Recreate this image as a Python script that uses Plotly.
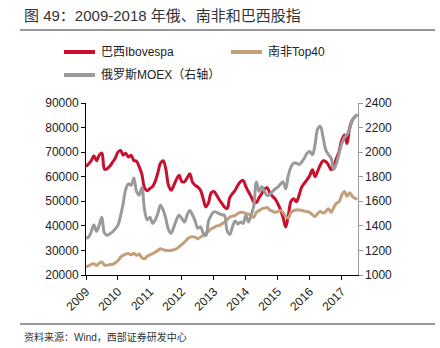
import pandas as pd
import plotly.graph_objects as go
from plotly.subplots import make_subplots

dates = pd.date_range("2009-01-01", periods=103, freq="MS")

ibovespa = [
    64200, 65300, 66500, 68500, 66500, 68800, 69600, 63000, 63300, 64300, 66000, 67500,
    70000, 70700, 68800, 69500, 68000, 68700, 66600, 66300, 64000, 61000, 55500, 54300,
    55200, 56000, 58000, 61500, 65500, 66500, 63300, 56500, 54500, 56500, 59000, 60600,
    58000, 58000, 59500, 61200, 57800, 56500, 55800, 54500, 51000, 47700, 49500, 53500,
    54000, 52500, 50800, 49200, 47700, 47000, 51500, 53100, 54500, 56500, 58000, 58500,
    56000, 53800, 52000, 49700, 49500, 51500, 53100, 55000, 55500, 53500, 52000, 51000,
    49000, 46500, 43600, 39500, 44300, 50000, 51000, 49800, 52500, 55800, 57400, 58800,
    60500, 62800, 60000, 62300, 64800, 66500, 66200, 64800, 62800, 64500, 67500, 70300,
    75000, 77000, 73500, 80000, 83000, 84500, 85200,
]

top40 = [
    23200, 23800, 24300, 24600, 23900, 24800, 25300, 24000, 24000, 24300, 24300, 25000,
    25800, 27300, 28000, 28500, 28700, 28200, 28900, 28000, 28500, 27000, 26600, 27600,
    28200, 28700, 29300, 30000, 30700, 30300, 30000, 30000, 30000, 30300, 30700, 31500,
    32500, 33400, 34500, 35400, 35600, 35400, 34700, 35500, 36100, 37000, 37800, 38800,
    39300, 40000, 40100, 40800, 41500, 42500, 43500, 44000, 44200, 45000, 45500, 45500,
    45000, 44800, 44200, 43500, 45500, 46200, 46900, 47200, 47500, 46500, 46000, 45500,
    45800, 46200, 45500, 43800, 43200, 45500, 46200, 46500, 46500, 46300, 46000, 45800,
    45500, 44500, 43800, 45000, 45800, 45200, 45800, 47000, 45500, 47500, 49300, 49800,
    52600, 54000, 52000, 53500, 52000, 51200, 51000,
]

moex = [
    1298, 1310, 1350, 1406, 1356, 1406, 1470, 1340, 1324, 1336, 1352, 1376,
    1406, 1486, 1580, 1700, 1742, 1730, 1790, 1680, 1650, 1710, 1530, 1450,
    1470, 1420, 1446, 1500, 1568, 1530, 1460, 1370, 1340, 1390, 1450, 1486,
    1460, 1432, 1490, 1526, 1490, 1440, 1380, 1392, 1340, 1320, 1440, 1486,
    1514, 1510, 1500, 1490, 1486, 1360, 1330, 1392, 1440, 1416, 1432, 1420,
    1486, 1432, 1486, 1560, 1756, 1680, 1720, 1680, 1648, 1656, 1680, 1700,
    1716, 1740, 1760, 1700, 1810, 1880, 1910, 1910, 1900, 1920, 1952, 1990,
    2006, 1980, 2060, 2190, 2210, 2120, 2020, 1980, 1952, 1860, 1910, 1990,
    2070, 2120, 2140, 2190, 2260, 2290, 2304,
]

year_ticks = [str(y) for y in range(2009, 2018)]
left_ticks = [20000, 30000, 40000, 50000, 60000, 70000, 80000, 90000]
right_ticks = [1000, 1200, 1400, 1600, 1800, 2000, 2200, 2400]

RED = "#C8102E"
TAN = "#C4A07A"
GRAY = "#9A9A9A"
FONT = "Liberation Sans, Noto Sans CJK SC, sans-serif"
TXT = "#222222"

fig = make_subplots(specs=[[{"secondary_y": True}]])
fig.add_trace(go.Scatter(x=dates, y=ibovespa, mode="lines", line=dict(color=RED, width=3, shape="spline"),
                         name="巴西Ibovespa", showlegend=False), secondary_y=False)
fig.add_trace(go.Scatter(x=dates, y=top40, mode="lines", line=dict(color=TAN, width=3, shape="spline"),
                         name="南非Top40", showlegend=False), secondary_y=False)
fig.add_trace(go.Scatter(x=dates, y=moex, mode="lines", line=dict(color=GRAY, width=3, shape="spline"),
                         name="俄罗斯MOEX（右轴）", showlegend=False), secondary_y=True)

L, R, T, B = 86, 65, 103, 73
W, H = 440, 348
pw, ph = W - L - R, H - T - B


def px(x):
    return (x - L) / pw


def py(y):
    return (H - B - y) / ph


fig.update_layout(
    width=W, height=H,
    margin=dict(l=L, r=R, t=T, b=B),
    paper_bgcolor="white", plot_bgcolor="white",
    font=dict(family=FONT, size=12, color=TXT),
)
fig.update_xaxes(
    range=[pd.Timestamp("2009-01-01"), pd.Timestamp("2017-07-01")],
    tickmode="array",
    tickvals=[pd.Timestamp(f"{y}-01-01") for y in year_ticks],
    ticktext=year_ticks,
    tickangle=-45,
    showgrid=False, zeroline=False,
    showline=True, linecolor="#000000", linewidth=1,
    ticks="outside", ticklen=4, tickcolor="#000000",
    tickfont=dict(size=12, color=TXT),
)
fig.update_yaxes(
    range=[20000, 90000], tickmode="array", tickvals=left_ticks,
    ticktext=[str(v) for v in left_ticks],
    showgrid=False, zeroline=False,
    showline=True, linecolor="#000000", linewidth=1,
    ticks="outside", ticklen=4, tickcolor="#000000",
    tickfont=dict(size=12, color=TXT), secondary_y=False,
)
fig.update_yaxes(
    range=[1000, 2400], tickmode="array", tickvals=right_ticks,
    ticktext=[str(v) for v in right_ticks],
    showgrid=False, zeroline=False,
    showline=True, linecolor="#999999", linewidth=1,
    ticks="outside", ticklen=4, tickcolor="#999999",
    tickfont=dict(size=12, color=TXT), secondary_y=True,
)

shapes = []
annotations = []
annotations.append(dict(x=px(22), y=py(15), xref="paper", yref="paper", text="图 49：2009-2018 年俄、南非和巴西股指",
                        showarrow=False, xanchor="left", yanchor="middle",
                        font=dict(size=15, color="#333333", family=FONT)))
shapes.append(dict(type="line", xref="paper", yref="paper", x0=px(20), x1=px(435), y0=py(30), y1=py(30),
                   line=dict(color="#333333", width=1)))
shapes.append(dict(type="line", xref="paper", yref="paper", x0=px(20), x1=px(435), y0=py(324), y1=py(324),
                   line=dict(color="#333333", width=1)))
annotations.append(dict(x=px(22), y=py(337), xref="paper", yref="paper", text="资料来源：Wind，西部证券研发中心",
                        showarrow=False, xanchor="left", yanchor="middle",
                        font=dict(size=10, color="#333333", family=FONT)))

legend_items = [
    ("巴西Ibovespa", RED, 64, 52),
    ("南非Top40", TAN, 231, 52),
    ("俄罗斯MOEX（右轴）", GRAY, 64, 75),
]
for name, color, x0, y0 in legend_items:
    shapes.append(dict(type="line", xref="paper", yref="paper", x0=px(x0), x1=px(x0 + 31), y0=py(y0), y1=py(y0),
                       line=dict(color=color, width=4)))
    annotations.append(dict(x=px(x0 + 35), y=py(y0), xref="paper", yref="paper", text=name,
                            showarrow=False, xanchor="left", yanchor="middle",
                            font=dict(size=12, color=TXT, family=FONT)))

fig.update_layout(shapes=shapes, annotations=annotations)
fig.write_html("out.html")
